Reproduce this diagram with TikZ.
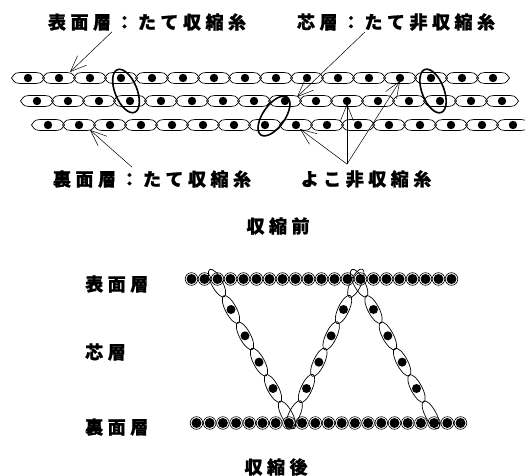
\documentclass[tikz,border=0pt]{standalone}
\usepackage{fontspec}
\usetikzlibrary{arrows.meta,calc}
\newfontfamily\jpfont{Noto Sans CJK JP}[LetterSpace=25,BoldFeatures={FakeBold=1}]

\begin{document}
\begin{tikzpicture}[x=1pt,y=-1pt,
	lab/.style={font=\jpfont\bfseries\fontsize{18}{20}\selectfont,inner sep=1pt},
	arr/.style={-{Straight Barb[length=16pt,width=13pt]},line width=0.5pt},
	ring/.style={line width=1.6pt},
	yarnloop/.pic={
		\draw[line width=0.7pt] (-16.5,0) .. controls (-13,-5.5) and (-11,-5.5) .. (-8,-5.5) -- (8,-5.5) .. controls (11,-5.5) and (13,-5.5) .. (16.5,0) .. controls (13,5.5) and (11,5.5) .. (8,5.5) -- (-8,5.5) .. controls (-11,5.5) and (-13,5.5) .. cycle;
		\fill (0,0) circle (4.2);
	},
	warpend/.pic={
		\draw[line width=0.6pt] (0,0) circle (6.3);
		\fill (0,0) circle (5);
	}]
			\useasboundingbox (0,0) rectangle (525,476);
			% before shrinking: three layers of warp loops
			\foreach \i in {0,...,15} {
				\pic at ({28+31*\i},78) {yarnloop};
				\pic at ({37+31*\i},101) {yarnloop};
				\pic at ({48+31*\i},125) {yarnloop};
			}
			\draw[ring,rotate around={22:(126,91)}] (126,91) ellipse (11 and 23);
			\draw[ring,rotate around={-35:(274,116)}] (274,116) ellipse (11 and 23);
			\draw[ring,rotate around={21:(433,91)}] (433,91) ellipse (11 and 23);
			\node[lab] (surf) at (147,22) {表面層：たて収縮糸};
			\node[lab] (core) at (396,22) {芯層：たて非収縮糸};
			\node[lab] (back) at (152,179) {裏面層：たて収縮糸};
			\node[lab] (weft) at (366,179) {よこ非収縮糸};
			\node[lab] (before) at (278,226) {収縮前};
			\coordinate (t1) at (70,72);
			\coordinate (t2) at (297,97);
			\coordinate (t3) at (90,130);
			\coordinate (w1) at (300,129);
			\coordinate (w2) at (347,104);
			\coordinate (w3) at (400,81);
			\coordinate (fan) at ([xshift=-19pt,yshift=5pt]weft.north);
			\draw[arr] ([xshift=-35pt]surf.south) -- (t1);
			\draw[arr] ([xshift=-31pt]core.south) -- (t2);
			\draw[arr] ([xshift=-20pt,yshift=2pt]back.north) -- (t3);
			\foreach \w in {w1,w2,w3}
				\draw[arr] (fan) -- (\w);
			% after shrinking: core yarn zigzags between the two faces
			\foreach \i in {0,...,20} {
				\pic at ({191.5+13*\i},279) {warpend};
				\pic at ({196.5+13.2*\i},423) {warpend};
			}
			\foreach \tx/\ty/\bx/\by/\a in {210/270/294/428/-62,362/270/288/428/65,352/270/438/428/-62} {
				\foreach \k in {0,...,5} {
					\coordinate (c) at ($(\tx,\ty)!{(\k+0.5)/6}!(\bx,\by)$);
					\draw[line width=0.7pt,rotate around={\a:(c)}] (c) ellipse (15.5 and 5.5);
				}
				\foreach \k in {1,...,4}
					\fill ($(\tx,\ty)!{(\k+0.5)/6}!(\bx,\by)$) circle (4.5);
			}
			\node[lab,anchor=west] (surf2) at (84,284) {表面層};
			\node[lab,anchor=west] (core2) at (84,352) {芯層};
			\node[lab,anchor=west] (back2) at (84,427) {裏面層};
			\node[lab] (after) at (276,467) {収縮後};
\end{tikzpicture}
\end{document}
